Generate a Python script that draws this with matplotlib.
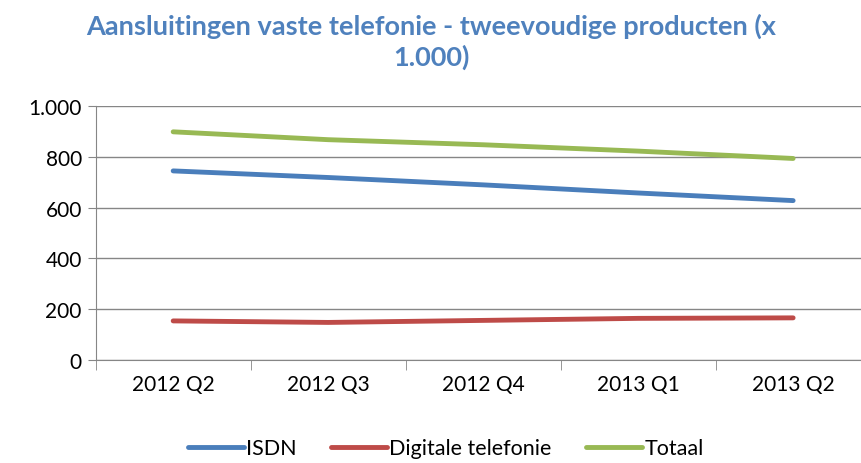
import matplotlib
matplotlib.use("Agg")
import matplotlib.pyplot as plt

# data
kwartalen = ["2012 Q2", "2012 Q3", "2012 Q4", "2013 Q1", "2013 Q2"]
isdn = [745, 719, 690, 658, 628]
digitaal = [154, 148, 156, 164, 166]
totaal = [899, 868, 848, 823, 794]
y_ticks = [0, 200, 400, 600, 800, 1000]
y_labels = ["0", "200", "400", "600", "800", "1.000"]

plt.rcParams['font.family'] = ['Lato', 'DejaVu Sans']

fig = plt.figure(figsize=(8.62, 4.64), dpi=100)
ax = fig.add_axes([0.111, 0.222, 0.899, 0.547])

x = range(len(kwartalen))
ax.plot(x, isdn, color="#4A7EBB", lw=3.5, solid_capstyle="round", label="ISDN")
ax.plot(x, digitaal, color="#BE4B48", lw=3.5, solid_capstyle="round", label="Digitale telefonie")
ax.plot(x, totaal, color="#98B954", lw=3.5, solid_capstyle="round", label="Totaal")

ax.set_xlim(-0.5, len(kwartalen) - 0.5)
ax.set_ylim(0, 1000)
ax.set_yticks(y_ticks)
ax.set_yticklabels(y_labels, fontsize=15)
ax.set_xticks(list(x))
ax.set_xticklabels(kwartalen, fontsize=15)
ax.tick_params(axis="x", which="major", length=0, pad=10)
ax.set_xticks([i - 0.5 for i in x], minor=True)
ax.tick_params(axis="x", which="minor", length=7, direction="out", color="#868686")
ax.tick_params(axis="y", length=6, direction="out", color="#868686", pad=4)

ax.grid(axis="y", color="#868686", lw=1)
ax.set_axisbelow(True)
for s in ["top", "right"]:
    ax.spines[s].set_visible(False)
for s in ["left", "bottom"]:
    ax.spines[s].set_color("#868686")

fig.text(0.5, 0.91, "Aansluitingen vaste telefonie - tweevoudige producten (x\n1.000)",
         ha="center", va="center", fontsize=19.5, fontweight="bold", color="#4F81BD",
         linespacing=1.25)

fig.legend(loc="center", bbox_to_anchor=(0.517, 0.032), ncol=3, frameon=False,
           fontsize=15.5, handlelength=2.6, handletextpad=0.1, columnspacing=1.6)

fig.savefig("out.png", dpi=100)
